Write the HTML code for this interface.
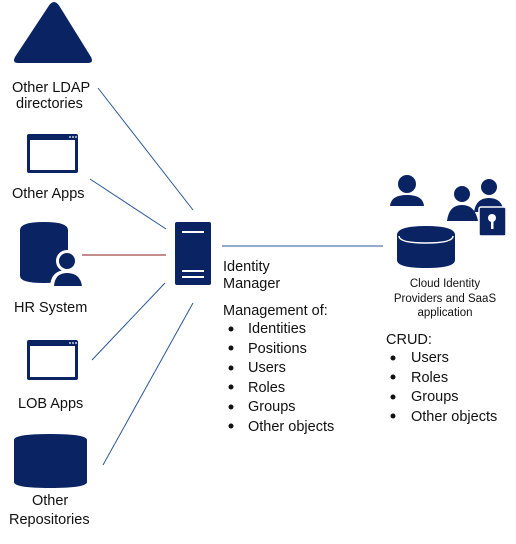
<!DOCTYPE html><html><head><style>
body{margin:0;background:#fff;width:516px;height:539px;overflow:hidden}
svg text{font-family:"Liberation Sans",sans-serif;fill:#111}
</style></head><body>
<svg width="516" height="539" viewBox="0 0 516 539" xmlns="http://www.w3.org/2000/svg">
<g stroke="#2b5797" stroke-width="1" fill="none">
<line x1="98" y1="88" x2="193" y2="210"/>
<line x1="90" y1="179" x2="166" y2="229"/>
<line x1="92" y1="360" x2="165" y2="283"/>
<line x1="103" y1="465" x2="193" y2="303"/>
<line x1="222" y1="246" x2="383" y2="246"/>
</g>
<line x1="82" y1="255" x2="166" y2="255" stroke="#8b1a1a" stroke-width="1"/>
<g fill="#0a2463">
<path d="M54,2 Q57,2 60,7 L91,57 Q94,63 88,63 L18,63 Q12,63 15,57 L48,7 Q51,2 54,2Z"/>
<rect x="27" y="134" width="51" height="39" rx="2"/>
<rect x="27" y="340" width="51" height="40" rx="2"/>
<path d="M20,230 Q20,222 44,222 Q68,222 68,230 L68,276 Q68,283 44,283 Q20,283 20,276Z"/>
<path d="M14,440 Q14,434 50,434 Q87,434 87,440 L87,482 Q87,488 50,488 Q14,488 14,482Z"/>
<rect x="175" y="222" width="36" height="63" rx="2"/>
<path d="M397,235 Q397,226 426,226 Q455,226 455,235 L455,260 Q455,268 426,268 Q397,268 397,260Z"/>
<circle cx="407" cy="184" r="9"/><path d="M390,206 Q391,195 407,195 Q423,195 424,206Z"/>
<circle cx="489" cy="187" r="8"/><path d="M474,212 Q476,198 489,198 Q502,198 504,212Z"/>
<circle cx="462" cy="194" r="8"/><path d="M447,221 Q449,205 462,205 Q475,205 478,221Z"/>
<rect x="479" y="207" width="27" height="29" rx="2" stroke="#fff" stroke-width="1.5"/>
</g>
<g fill="#fff">
<rect x="30" y="140" width="45" height="30"/>
<rect x="30" y="346" width="45" height="31"/>
<circle cx="70" cy="137" r="0.9"/><circle cx="73" cy="137" r="0.9"/><circle cx="76" cy="137" r="0.9"/>
<circle cx="70" cy="343" r="0.9"/><circle cx="73" cy="343" r="0.9"/><circle cx="76" cy="343" r="0.9"/>
<rect x="182" y="231" width="22" height="2"/>
<rect x="182" y="270" width="22" height="2"/>
<rect x="182" y="276" width="22" height="2"/>
<circle cx="492" cy="218" r="4"/><rect x="491" y="220" width="2.5" height="9"/>
<circle cx="67" cy="261" r="11"/><path d="M50,288 Q50,270 67,270 Q84,270 86,288Z"/>
</g>
<path d="M399,236 Q399,243 426,243 Q453,243 453,236" stroke="#fff" stroke-width="1.5" fill="none"/>
<g fill="#0a2463">
<circle cx="67" cy="261" r="8"/><path d="M54,286 Q55,273 67,273 Q80,273 82,286Z"/>
</g>
<g font-size="14.5">
<text x="12" y="92">Other LDAP</text>
<text x="16" y="108">directories</text>
<text x="12" y="198">Other Apps</text>
<text x="14" y="312">HR System</text>
<text x="18" y="408">LOB Apps</text>
<text x="32" y="505">Other</text>
<text x="9" y="524">Repositories</text>
<text x="223" y="271">Identity</text>
<text x="223" y="288">Manager</text>
<text x="223" y="315">Management of:</text>
<text x="248" y="333">Identities</text>
<text x="248" y="353">Positions</text>
<text x="248" y="372">Users</text>
<text x="248" y="392">Roles</text>
<text x="248" y="411">Groups</text>
<text x="248" y="431">Other objects</text>
<text x="386" y="344">CRUD:</text>
<text x="411" y="362">Users</text>
<text x="411" y="382">Roles</text>
<text x="411" y="401">Groups</text>
<text x="411" y="421">Other objects</text>
</g>
<g font-size="11.5" text-anchor="middle">
<text x="445" y="287">Cloud Identity</text>
<text x="445" y="302">Providers and SaaS</text>
<text x="445" y="316">application</text>
</g>
<g fill="#111">
<circle cx="231" cy="329" r="2.5"/><circle cx="231" cy="348" r="2.5"/><circle cx="231" cy="368" r="2.5"/>
<circle cx="231" cy="387" r="2.5"/><circle cx="231" cy="407" r="2.5"/><circle cx="231" cy="426" r="2.5"/>
<circle cx="393" cy="358" r="2.5"/><circle cx="393" cy="377" r="2.5"/><circle cx="393" cy="397" r="2.5"/><circle cx="393" cy="416" r="2.5"/>
</g>
</svg>
</body></html>
